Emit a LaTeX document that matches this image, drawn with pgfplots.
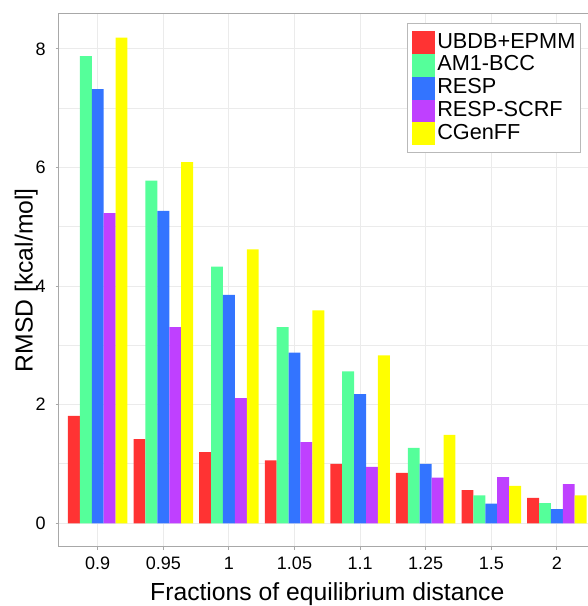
\documentclass[border=0pt]{standalone}
\usepackage{pgfplots}
\pgfplotsset{compat=1.18}
\usepackage{fontspec}
\setmainfont{Liberation Sans}
\definecolor{cred}{HTML}{FF3333}
\definecolor{cgreen}{HTML}{55FF9A}
\definecolor{cblue}{HTML}{3374FF}
\definecolor{cpurple}{HTML}{BF40FF}
\definecolor{cyellow}{HTML}{FFFF00}
\definecolor{framegray}{HTML}{A8A8A8}
\definecolor{gridgray}{HTML}{EBEBEB}

% columns: group index, then one column per charge model
\pgfplotstableread{
x  ubdb  am1  resp  scrf  cgen
0  1.81  7.88 7.32  5.23  8.19
1  1.42  5.78 5.27  3.31  6.09
2  1.20  4.33 3.85  2.11  4.62
3  1.06  3.31 2.88  1.37  3.59
4  1.00  2.56 2.18  0.95  2.83
5  0.85  1.27 1.00  0.77  1.49
6  0.56  0.47 0.33  0.78  0.63
7  0.43  0.34 0.24  0.66  0.47
}\rmsd

\begin{document}
\begin{tikzpicture}
  \begin{axis}[
    at={(0,0)}, anchor=south west,
    scale only axis, width=268.6pt, height=266.5pt,
    ybar=0pt, bar width=5.95pt,
    xmin=-0.595, xmax=7.595, ymin=-0.395, ymax=8.594,
    xtick={0,...,7},
    xticklabels={0.9,0.95,1,1.05,1.1,1.25,1.5,2},
    ytick={0,2,4,6,8}, minor ytick={1,3,5,7},
    grid=both,
    major grid style={gridgray,line width=0.5pt},
    minor grid style={gridgray,line width=0.5pt},
    axis line style={framegray,line width=0.5pt},
    tick align=outside, tick pos=left,
    major tick length=1.5pt, minor tick length=0pt,
    tick style={framegray,line width=0.5pt},
    tick label style={font=\fontsize{9}{10}\selectfont},
    /pgf/number format/assume math mode=true,
    yticklabel style={xshift=-1.5pt},
    xlabel={Fractions of equilibrium distance},
    ylabel={RMSD [kcal/mol]},
    label style={font=\fontsize{12.35}{14}\selectfont},
    xlabel style={at={(axis description cs:0.5,-0.1)}, anchor=base},
    ylabel style={at={(axis description cs:-0.0484,0.5)}, anchor=base},
    legend style={
      at={(0.648,0.983)}, anchor=north west,
      draw=framegray!80, line width=0.5pt,
      font=\fontsize{10.85}{11}\selectfont,
      inner xsep=2.5pt, inner ysep=3.8pt,
      row sep=0pt, column sep=1pt,
      nodes={inner sep=0pt, text height=8.6pt, text depth=2.85pt},
    },
    legend cell align=left,
    legend image code/.code={
      \fill[#1,draw=none] (0pt,-5.725pt) rectangle (11.5pt,5.725pt);},
  ]
    \addplot[fill=cred,draw=none] table[x=x,y=ubdb] {\rmsd};
    \addplot[fill=cgreen,draw=none] table[x=x,y=am1] {\rmsd};
    \addplot[fill=cblue,draw=none] table[x=x,y=resp] {\rmsd};
    \addplot[fill=cpurple,draw=none] table[x=x,y=scrf] {\rmsd};
    \addplot[fill=cyellow,draw=none] table[x=x,y=cgen] {\rmsd};
    \legend{UBDB+EPMM,AM1-BCC,RESP,RESP-SCRF,CGenFF}
  \end{axis}
  \pgfresetboundingbox
  \useasboundingbox (-29.35pt,-29.65pt) rectangle (264.65pt,273.35pt);
\end{tikzpicture}
\end{document}
